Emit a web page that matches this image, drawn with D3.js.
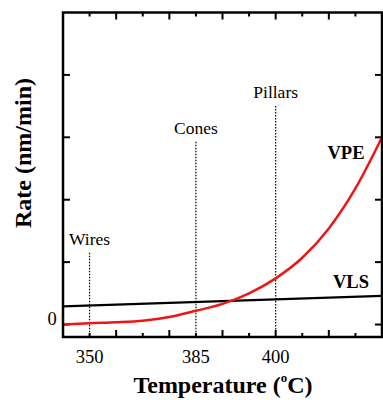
<!DOCTYPE html>
<html>
<head>
<meta charset="utf-8">
<script src="https://cdn.jsdelivr.net/npm/d3@7"></script>
<style>
  body { margin: 0; background: #fff; }
  svg { display: block; }
  text { font-family: "Liberation Serif", "Times New Roman", serif; fill: #000; }
</style>
</head>
<body>
<svg id="chart"></svg>
<script>
// x positions are tick steps along the (non-linear) temperature axis
const tickSteps = [0, 1, 2, 3, 4, 5, 6, 7, 8, 9, 10];
const xLabelSteps = [0, 4, 7];
const xLabels = ["350", "385", "400"];

const vpeSteps = [-1, 0, 1, 2, 3, 4, 5, 6, 7, 8, 9, 10, 11];
const vpeRate = [0.0, 0.02, 0.035, 0.06, 0.12, 0.22, 0.33, 0.5, 0.74, 1.07, 1.54, 2.18, 3.0];

const vlsSteps = [-1, 11];
const vlsRate = [0.29, 0.46];

const yTicks = [0, 1, 2, 3, 4];

const markers = ["Wires", "Cones", "Pillars"];
const markerSteps = [0, 4, 7];
const markerTop = [1.15, 2.93, 3.5];

const width = 383;
const height = 400;
const plotLeft = 63;
const plotRight = 382;
const plotTop = 12.5;
const plotBottom = 337;

const svg = d3.select("#chart")
    .attr("width", width)
    .attr("height", height);

const xScale = d3.scaleLinear()
    .domain([-1, 11])
    .range([plotLeft, plotRight]);
const yScale = d3.scaleLinear()
    .domain([-0.2, 5])
    .range([plotBottom, plotTop]);

// ticks on all four sides, pointing inward
const tickG = svg.append("g").attr("stroke", "#000").attr("stroke-width", 2);
tickSteps.forEach(s => {
    const len = s % 2 === 1 ? 7 : 4;
    const x = xScale(s);
    tickG.append("line").attr("x1", x).attr("x2", x).attr("y1", plotBottom).attr("y2", plotBottom - len);
    tickG.append("line").attr("x1", x).attr("x2", x).attr("y1", plotTop).attr("y2", plotTop + len);
});
yTicks.forEach(v => {
    const y = yScale(v);
    tickG.append("line").attr("x1", plotLeft).attr("x2", plotLeft + 7).attr("y1", y).attr("y2", y);
    tickG.append("line").attr("x1", plotRight).attr("x2", plotRight - 7).attr("y1", y).attr("y2", y);
});

// dotted marker lines
markers.forEach((m, i) => {
    const x = xScale(markerSteps[i]);
    svg.append("line")
        .attr("x1", x).attr("x2", x)
        .attr("y1", yScale(markerTop[i])).attr("y2", plotBottom)
        .attr("stroke", "#000")
        .attr("stroke-width", 1.2)
        .attr("stroke-dasharray", "1.5,1.5");
    svg.append("text")
        .attr("x", x)
        .attr("y", yScale(markerTop[i]) - 8)
        .attr("text-anchor", "middle")
        .attr("font-size", 17.5)
        .text(m);
});

const line = d3.line()
    .x(d => xScale(d[0]))
    .y(d => yScale(d[1]))
    .curve(d3.curveMonotoneX);

svg.append("path")
    .datum(d3.zip(vlsSteps, vlsRate))
    .attr("d", line)
    .attr("fill", "none")
    .attr("stroke", "#000")
    .attr("stroke-width", 2.2);

svg.append("path")
    .datum(d3.zip(vpeSteps, vpeRate))
    .attr("d", line)
    .attr("fill", "none")
    .attr("stroke", "#f01414")
    .attr("stroke-width", 2.5);

// frame
svg.append("rect")
    .attr("x", plotLeft).attr("y", plotTop)
    .attr("width", plotRight - plotLeft).attr("height", plotBottom - plotTop)
    .attr("fill", "none")
    .attr("stroke", "#000")
    .attr("stroke-width", 2.5);

// series labels
svg.append("text")
    .attr("x", 346).attr("y", 159)
    .attr("text-anchor", "middle")
    .attr("font-size", 18.5).attr("font-weight", "bold")
    .text("VPE");
svg.append("text")
    .attr("x", 351).attr("y", 288)
    .attr("text-anchor", "middle")
    .attr("font-size", 18.5).attr("font-weight", "bold")
    .text("VLS");

// tick labels
xLabels.forEach((t, i) => {
    svg.append("text")
        .attr("x", xScale(xLabelSteps[i]))
        .attr("y", 363)
        .attr("text-anchor", "middle")
        .attr("font-size", 18.5)
        .text(t);
});
svg.append("text")
    .attr("x", 52).attr("y", yScale(0))
    .attr("text-anchor", "middle")
    .attr("font-size", 18.5)
    .text("0");

// axis titles
const xt = svg.append("text")
    .attr("x", 223).attr("y", 393)
    .attr("text-anchor", "middle")
    .attr("font-size", 24).attr("font-weight", "bold");
xt.append("tspan").text("Temperature (");
xt.append("tspan").attr("font-size", 13).attr("dy", -11).text("o");
xt.append("tspan").attr("dy", 11).text("C)");

svg.append("text")
    .attr("transform", "translate(31,153) rotate(-90)")
    .attr("text-anchor", "middle")
    .attr("font-size", 24).attr("font-weight", "bold")
    .text("Rate (nm/min)");
</script>
</body>
</html>
